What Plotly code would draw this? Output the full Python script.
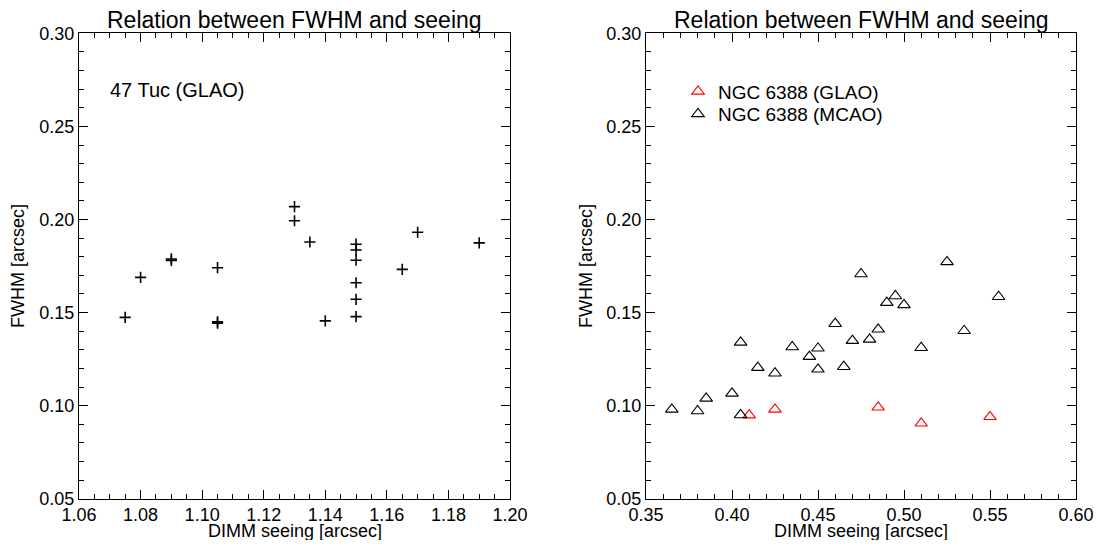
import plotly.graph_objects as go

# ---------------- data ----------------
tuc_seeing = [1.075, 1.08, 1.09, 1.09, 1.105, 1.105, 1.105, 1.13, 1.13, 1.135, 1.14,
              1.15, 1.15, 1.15, 1.15, 1.15, 1.15, 1.165, 1.17, 1.19]
tuc_fwhm = [0.1474, 0.1689, 0.1780, 0.1788, 0.1741, 0.1443, 0.1450, 0.2069, 0.1993, 0.1879, 0.1455,
            0.1867, 0.1836, 0.1781, 0.1660, 0.1571, 0.1478, 0.1732, 0.1931, 0.1874]

mcao_seeing = [0.365, 0.38, 0.385, 0.40, 0.405, 0.405, 0.415, 0.425, 0.435, 0.445, 0.45, 0.45,
               0.46, 0.465, 0.47, 0.475, 0.48, 0.485, 0.49, 0.495, 0.50, 0.51, 0.525, 0.535, 0.555]
mcao_fwhm = [0.0980, 0.0971, 0.1039, 0.1066, 0.0950, 0.1340, 0.1204, 0.1174, 0.1315, 0.1263, 0.1308, 0.1195,
             0.1440, 0.1209, 0.1349, 0.1707, 0.1356, 0.1410, 0.1553, 0.1589, 0.1541, 0.1311, 0.1772, 0.1402, 0.1585]

glao_seeing = [0.41, 0.425, 0.485, 0.51, 0.55]
glao_fwhm = [0.0949, 0.0980, 0.0991, 0.0905, 0.0940]

left_xticks = [1.06, 1.08, 1.10, 1.12, 1.14, 1.16, 1.18, 1.20]
right_xticks = [0.35, 0.40, 0.45, 0.50, 0.55, 0.60]
yticks = [0.05, 0.10, 0.15, 0.20, 0.25, 0.30]

title_text = "Relation between FWHM and seeing"
xlabel = "DIMM seeing [arcsec]"
ylabel = "FWHM [arcsec]"

# ---------------- layout geometry ----------------
# The page body has an 8px default margin, so the figure is drawn 8px in.
OFF = 8
W, H = 1102 - 2 * OFF, 548 - 2 * OFF
FONT = "Liberation Sans, Arial, Helvetica, sans-serif"


def fx(px):
    return (px - OFF) / W


def fy(py):
    return 1 - (py - OFF) / H


left_px = (79, 510)
right_px = (646, 1076)
top_px, bot_px = 33.3, 498.7

ydom = [fy(bot_px), fy(top_px)]

fig = go.Figure()

fig.add_trace(go.Scatter(
    x=tuc_seeing, y=tuc_fwhm, mode="markers", xaxis="x", yaxis="y",
    marker=dict(symbol="cross-thin-open", size=8, color="black",
                line=dict(width=1.6, color="black")),
    showlegend=False, name="47 Tuc (GLAO)"))

fig.add_trace(go.Scatter(
    x=glao_seeing, y=glao_fwhm, mode="markers", xaxis="x2", yaxis="y2",
    marker=dict(symbol="triangle-up-open", size=11, color="red",
                line=dict(width=1.1, color="red")),
    name="NGC 6388 (GLAO)", legend="legend"))

fig.add_trace(go.Scatter(
    x=mcao_seeing, y=mcao_fwhm, mode="markers", xaxis="x2", yaxis="y2",
    marker=dict(symbol="triangle-up-open", size=11, color="black",
                line=dict(width=1.1, color="black")),
    name="NGC 6388 (MCAO)", legend="legend2"))


def xaxis(dom, rng, ticks, minor_dt, anchor):
    return dict(domain=dom, range=rng, anchor=anchor,
                tickmode="array", tickvals=ticks, ticktext=[f"{t:.2f}" for t in ticks],
                ticks="inside", ticklen=9, tickwidth=1, tickcolor="black",
                minor=dict(ticks="inside", dtick=minor_dt, ticklen=5, tickwidth=1, tickcolor="black"),
                showline=True, linecolor="black", linewidth=1, mirror="allticks",
                showgrid=False, zeroline=False, automargin=False,
                ticklabeloverflow="allow",
                tickfont=dict(family=FONT, size=18, color="black"))


def yaxis(dom, anchor):
    return dict(domain=dom, range=[0.05, 0.30], anchor=anchor,
                tickmode="array", tickvals=yticks, ticktext=[f"{t:.2f}" for t in yticks],
                ticks="inside", ticklen=9, tickwidth=1, tickcolor="black",
                minor=dict(ticks="inside", dtick=0.01, ticklen=5, tickwidth=1, tickcolor="black"),
                showline=True, linecolor="black", linewidth=1, mirror="allticks",
                showgrid=False, zeroline=False, automargin=False,
                ticklabeloverflow="allow",
                tickfont=dict(family=FONT, size=18, color="black"))


annotations = []
for (a, b) in (left_px, right_px):
    cx = fx((a + b) / 2)
    annotations.append(dict(text=title_text, xref="paper", yref="paper", x=cx, y=fy(20),
                            xanchor="center", yanchor="middle", showarrow=False,
                            font=dict(family=FONT, size=23, color="black")))
    annotations.append(dict(text=xlabel, xref="paper", yref="paper", x=cx, y=fy(530.5),
                            xanchor="center", yanchor="middle", showarrow=False,
                            font=dict(family=FONT, size=18, color="black")))
annotations.append(dict(text=ylabel, xref="paper", yref="paper", x=fx(18), y=fy(266),
                        xanchor="center", yanchor="middle", textangle=-90, showarrow=False,
                        font=dict(family=FONT, size=18, color="black")))
annotations.append(dict(text=ylabel, xref="paper", yref="paper", x=fx(586), y=fy(266),
                        xanchor="center", yanchor="middle", textangle=-90, showarrow=False,
                        font=dict(family=FONT, size=18, color="black")))
annotations.append(dict(text="47 Tuc (GLAO)", xref="x", yref="y", x=1.0695, y=0.2695,
                        xanchor="left", yanchor="middle", showarrow=False,
                        font=dict(family=FONT, size=20, color="black")))

legend_common = dict(xanchor="left", yanchor="middle", bgcolor="rgba(0,0,0,0)", borderwidth=0,
                     tracegroupgap=0, itemwidth=30,
                     font=dict(family=FONT, size=19, color="black"))

fig.update_layout(
    width=W, height=H,
    margin=dict(l=0, r=0, t=0, b=0),
    paper_bgcolor="white", plot_bgcolor="white",
    xaxis=xaxis([fx(left_px[0]), fx(left_px[1])], [1.06, 1.20], left_xticks, 0.005, "y"),
    yaxis=yaxis(ydom, "x"),
    xaxis2=xaxis([fx(right_px[0]), fx(right_px[1])], [0.35, 0.60], right_xticks, 0.01, "y2"),
    yaxis2=yaxis(ydom, "x2"),
    annotations=annotations,
    legend=dict(x=fx(678), y=fy(91.5), **legend_common),
    legend2=dict(x=fx(678), y=fy(114), **legend_common),
    font=dict(family=FONT, color="black"),
)

fig.write_html("out.html")
